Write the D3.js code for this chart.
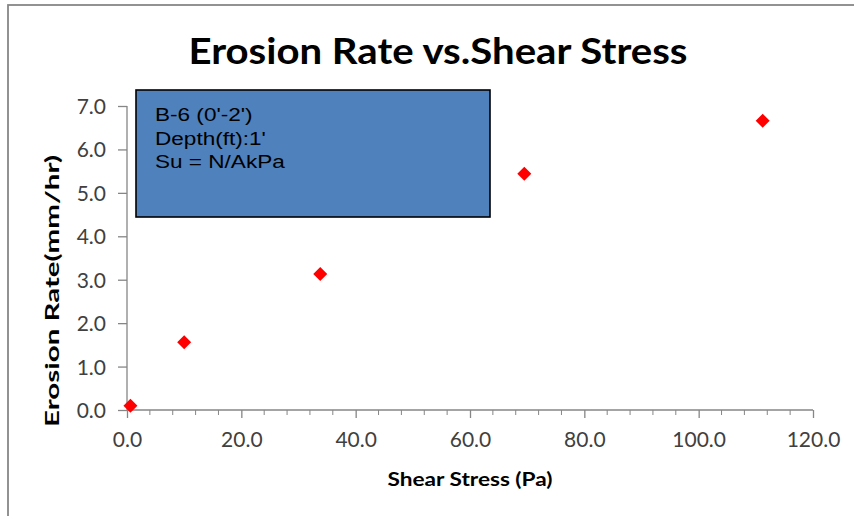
<!DOCTYPE html>
<html>
<head>
<meta charset="utf-8">
<script src="https://cdn.jsdelivr.net/npm/d3@7"></script>
<style>
  html, body { margin: 0; padding: 0; background: #fff; }
  svg { display: block; }
</style>
</head>
<body>
<svg id="chart" width="854" height="516"></svg>
<script>
// Erosion test results for boring B-6
const shearStress = [0.6, 10.0, 33.8, 69.5, 111.2];   // Pa
const erosionRate = [0.10, 1.56, 3.13, 5.44, 6.66];   // mm/hr
const xTicks = [0, 20, 40, 60, 80, 100, 120];
const yTicks = [0, 1, 2, 3, 4, 5, 6, 7];
const noteLines = ["B-6 (0'-2')", "Depth(ft):1'", "Su = N/AkPa"];
const titleText = "Erosion Rate vs.Shear Stress";
const xTitle = "Shear Stress (Pa)";
const yTitle = "Erosion Rate(mm/hr)";

const svg = d3.select("#chart");
const uiFont = "Lato, 'Open Sans', 'Liberation Sans', sans-serif";

// outer chart frame
svg.append("rect")
  .attr("x", 8).attr("y", 5)
  .attr("width", 900).attr("height", 600)
  .attr("fill", "#fff")
  .attr("stroke", "#878787").attr("stroke-width", 1.8);

const plot = { left: 127, right: 813, top: 106, bottom: 410 };

const x = d3.scaleLinear().domain([0, 120]).range([plot.left, plot.right]);
const y = d3.scaleLinear().domain([0, 7]).range([plot.bottom, plot.top]);

// title
svg.append("text")
  .attr("x", 438).attr("y", 64)
  .attr("text-anchor", "middle")
  .attr("font-family", uiFont)
  .attr("font-weight", "bold")
  .attr("font-size", 37)
  .attr("fill", "#000")
  .attr("textLength", 499)
  .attr("lengthAdjust", "spacingAndGlyphs")
  .text(titleText);

// x axis with minor ticks every 4 Pa
const minorX = d3.range(0, 121, 4).filter(v => v % 20 !== 0);
const xg = svg.append("g").attr("transform", `translate(0,${plot.bottom})`);
xg.call(d3.axisBottom(x).tickValues(xTicks).tickSize(8).tickPadding(14)
    .tickFormat(d3.format(".1f")));
xg.selectAll(".minor").data(minorX).enter().append("line")
  .attr("class", "minor")
  .attr("x1", d => x(d)).attr("x2", d => x(d))
  .attr("y1", 0).attr("y2", 5)
  .attr("stroke", "#868686").attr("stroke-width", 1);

// y axis
const yg = svg.append("g").attr("transform", `translate(${plot.left},0)`);
yg.call(d3.axisLeft(y).tickValues(yTicks).tickSize(9).tickPadding(12)
    .tickFormat(d3.format(".1f")));

[xg, yg].forEach(g => {
  g.select(".domain").attr("stroke", "#868686").attr("stroke-width", 1.3);
  g.selectAll(".tick line").attr("stroke", "#868686").attr("stroke-width", 1.3);
  g.selectAll(".tick text")
    .attr("font-family", uiFont)
    .attr("font-size", 21)
    .attr("fill", "#404040");
});
xg.selectAll(".domain").attr("d", `M${plot.left},0H${plot.right}`);
yg.selectAll(".domain").attr("d", `M0,${plot.bottom}V${plot.top}`);
yg.selectAll(".tick text").attr("dy", "0.36em");

// axis titles
svg.append("text")
  .attr("x", 470).attr("y", 486)
  .attr("text-anchor", "middle")
  .attr("font-family", uiFont)
  .attr("font-weight", "bold")
  .attr("font-size", 19)
  .attr("fill", "#000")
  .attr("textLength", 165)
  .attr("lengthAdjust", "spacingAndGlyphs")
  .text(xTitle);

svg.append("text")
  .attr("transform", "translate(59,291) rotate(-90)")
  .attr("text-anchor", "middle")
  .attr("font-family", uiFont)
  .attr("font-weight", "bold")
  .attr("font-size", 19)
  .attr("fill", "#000")
  .attr("textLength", 272)
  .attr("lengthAdjust", "spacingAndGlyphs")
  .text(yTitle);

// sample description box
const note = svg.append("g");
note.append("rect")
  .attr("x", 136).attr("y", 90)
  .attr("width", 354).attr("height", 127)
  .attr("fill", "#4F81BD")
  .attr("stroke", "#000").attr("stroke-width", 1.6);
note.append("g")
  .attr("transform", "translate(155,0) scale(1.22,1)")
  .selectAll("text").data(noteLines).enter().append("text")
  .attr("x", 0)
  .attr("y", (d, i) => 121.5 + i * 23.3)
  .attr("font-family", "'Liberation Sans', Arial, sans-serif")
  .attr("font-size", 18.5)
  .attr("fill", "#000")
  .text(d => d);

// data markers (red diamonds)
const pts = shearStress.map((s, i) => ({ s, r: erosionRate[i] }));
svg.append("g").selectAll("path").data(pts).enter().append("path")
  .attr("d", d3.symbol().type(d3.symbolSquare).size(98))
  .attr("transform", d => `translate(${x(d.s)},${y(d.r)}) rotate(45)`)
  .attr("fill", "#FF0000");
</script>
</body>
</html>
